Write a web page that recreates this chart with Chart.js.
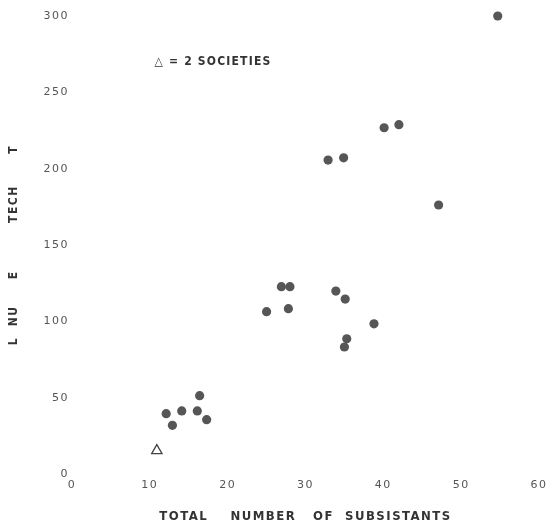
<!DOCTYPE html>
<html>
<head>
<meta charset="utf-8">
<script src="https://cdn.jsdelivr.net/npm/chart.js@4.4.1/dist/chart.umd.min.js"></script>
<style>
	html, body { margin: 0; padding: 0; background: #fff; }
	#wrap { width: 551px; height: 524px; }
</style>
</head>
<body>
<div id="wrap"><canvas id="ScatterChart"></canvas></div>
<script>
// values
var subsistants = [54.7, 40.1, 42.0, 32.9, 34.9, 47.1, 26.9, 28.0, 33.9, 35.1, 25.0, 27.8, 38.8, 35.3, 35.0, 16.4, 12.1, 14.1, 16.1, 12.9, 17.3];
var techniques = [300, 226.8, 228.8, 205.6, 207.1, 176.2, 122.7, 122.7, 119.8, 114.6, 106.3, 108.3, 98.4, 88.6, 83.2, 51.3, 39.5, 41.3, 41.3, 31.9, 35.6];
var pairSubsistants = [10.9];
var pairTechniques = [15.3];
var xTicks = [0, 10, 20, 30, 40, 50, 60];
var yTicks = [0, 50, 100, 150, 200, 250, 300];

var titleFont = '"DejaVu Sans Condensed", "DejaVu Sans", sans-serif';
var nb = function (n) { return new Array(n + 1).join('\u00A0'); };

function toPoints(xs, ys) {
	return xs.map(function (x, i) { return { x: x, y: ys[i] }; });
}

var spacing = {
	id: 'spacing',
	beforeDraw: function (chart) {
		chart.ctx.letterSpacing = '1.5px';
	},
	afterDraw: function (chart) {
		// key: triangle = 2 societies
		var ctx = chart.ctx;
		var xs = chart.scales.x, ys = chart.scales.y;
		ctx.save();
		ctx.letterSpacing = '1.2px';
		ctx.fillStyle = '#333';
		ctx.textBaseline = 'middle';
		ctx.textAlign = 'left';
		ctx.font = 'bold 12px ' + titleFont;
		ctx.fillText('\u25B3 = 2 SOCIETIES', xs.getPixelForValue(10.6), ys.getPixelForValue(270));
		ctx.restore();
	}
};

var ctx = document.getElementById('ScatterChart');
var myChart = new Chart(ctx, {
	type: 'scatter',
	data: {
		datasets: [{
			label: 'Societies',
			data: toPoints(subsistants, techniques),
			backgroundColor: '#565656',
			borderColor: '#565656',
			borderWidth: 0,
			pointRadius: 4.6,
			pointStyle: 'circle',
			clip: false
		}, {
			label: '2 Societies',
			data: toPoints(pairSubsistants, pairTechniques),
			backgroundColor: '#fff',
			borderColor: '#444',
			borderWidth: 1.3,
			pointRadius: 6,
			pointStyle: 'triangle',
			clip: false
		}]
	},
	options: {
		responsive: true,
		maintainAspectRatio: false,
		animation: false,
		layout: {
			padding: { top: 16, right: 3, left: 0, bottom: 0 }
		},
		scales: {
			x: {
				type: 'linear',
				min: 0,
				max: 60,
				afterFit: function (scale) { scale.height = 50; },
				afterBuildTicks: function (scale) {
					scale.ticks = xTicks.map(function (v) { return { value: v }; });
				},
				grid: { display: false, drawTicks: false },
				border: { display: false },
				ticks: {
					padding: 5,
					color: '#555',
					font: { family: 'DejaVu Sans', size: 11 }
				},
				title: {
					display: true,
					text: 'TOTAL' + nb(4) + 'NUMBER' + nb(3) + 'OF' + nb(2) + 'SUBSISTANTS',
					color: '#333',
					padding: { top: 0, bottom: 0 },
					font: { family: titleFont, size: 13, weight: 'bold' }
				}
			},
			y: {
				type: 'linear',
				min: 0,
				max: 300,
				afterFit: function (scale) { scale.width = 72; },
				afterBuildTicks: function (scale) {
					scale.ticks = yTicks.map(function (v) { return { value: v }; });
				},
				grid: { display: false, drawTicks: false },
				border: { display: false },
				ticks: {
					padding: 3,
					color: '#555',
					font: { family: 'DejaVu Sans', size: 11 }
				},
				title: {
					display: true,
					text: 'L' + nb(2) + 'NU' + nb(5) + 'E' + nb(9) + 'TECH' + nb(6) + 'T',
					color: '#333',
					padding: { top: 7, bottom: 0 },
					font: { family: titleFont, size: 12, weight: 'bold' }
				}
			}
		},
		plugins: {
			legend: { display: false },
			tooltip: { enabled: true }
		}
	},
	plugins: [spacing]
});
</script>
</body>
</html>
